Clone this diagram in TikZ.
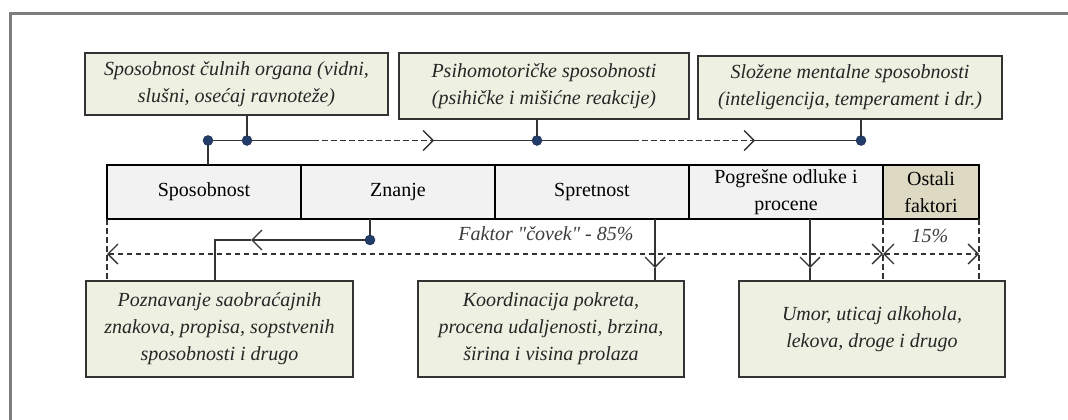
\documentclass[tikz,border=0pt]{standalone}
\usepackage{fontspec}
\setmainfont{Liberation Serif}
\usetikzlibrary{arrows.meta, positioning, calc}

\definecolor{notefill}{RGB}{238,240,226}
\definecolor{cellfill}{RGB}{242,242,242}
\definecolor{otherfill}{RGB}{221,217,195}
\definecolor{dotblue}{RGB}{35,60,105}
\definecolor{framegray}{RGB}{125,125,125}
\definecolor{labelgray}{RGB}{60,60,60}

\begin{document}
\begin{tikzpicture}[
    x=1pt, y=-1pt,
    node distance=0pt,
    note/.style={rectangle, draw=black!80, line width=1.3pt, fill=notefill, align=center, inner sep=0pt,
        font=\fontsize{20}{27}\selectfont\itshape, text=black!85},
    cell/.style={rectangle, draw, line width=2.2pt, fill=cellfill, align=center, inner sep=0pt, outer sep=0pt,
        minimum width=194pt, minimum height=54pt, font=\fontsize{20}{27}\selectfont},
    tag/.style={font=\fontsize{20}{24}\selectfont\itshape, text=labelgray, inner sep=0pt},
    link/.style={line width=1.3pt, black!80},
    barb/.tip={Straight Barb[length=10pt, width=20pt, line width=1.3pt]},
    arrow/.style={link, -barb},
    dasharrow/.style={arrow, dash pattern=on 5.5pt off 3.5pt},
    twoway/.style={link, barb-barb, dash pattern=on 5.5pt off 3.5pt},
    dashline/.style={link, dash pattern=on 5.5pt off 3.5pt},
    dot/.style={circle, fill=dotblue, draw=dotblue!70!black, inner sep=0pt, minimum size=10pt}
]
    \useasboundingbox (0,0) rectangle (1068,420);

    % Frame
    \draw[framegray, line width=3pt] (10,420) -- (10,13.5) -- (1068,13.5);

    % Main bar
    \node[cell] (sposobnost) at (204,192) {Sposobnost};
    \node[cell, right=of sposobnost] (znanje) {Znanje};
    \node[cell, right=of znanje] (spretnost) {Spretnost};
    \node[cell, right=of spretnost] (odluke) {Pogrešne odluke i\\procene};
    \node[cell, right=of odluke, minimum width=96pt, fill=otherfill] (ostali) {Ostali\\faktori};

    % Upper notes
    \node[note, minimum width=303pt, minimum height=62pt] (culni) at (236.5,84) {Sposobnost čulnih organa (vidni,\\slušni, osećaj ravnoteže)};
    \node[note, minimum width=290pt, minimum height=66pt] (psiho) at (544,86) {Psihomotoričke sposobnosti\\(psihičke i mišićne reakcije)};
    \node[note, minimum width=304pt, minimum height=63pt] (mentalne) at (850,87.5) {Složene mentalne sposobnosti\\(inteligencija, temperament i dr.)};

    % Lower notes
    \node[note, minimum width=267pt, minimum height=96pt] (poznavanje) at (219.5,329) {Poznavanje saobraćajnih\\znakova, propisa, sopstvenih\\sposobnosti i drugo};
    \node[note, minimum width=266pt, minimum height=96pt] (koordinacija) at (551,329) {Koordinacija pokreta,\\procena udaljenosti, brzina,\\širina i visina prolaza};
    \node[note, minimum width=266pt, minimum height=96pt] (umor) at (872,329) {Umor, uticaj alkohola,\\lekova, droge i drugo};

    % Upper connector
    \coordinate (t1) at (208,140.5);
    \coordinate (t2) at (247,140.5);
    \coordinate (t3) at (537,140.5);
    \coordinate (t4) at (861,140.5);
    \draw[link] (t1 |- sposobnost.north) -- (t1) -- (t2) -- (313,140.5) coordinate (d1);
    \draw[dasharrow] (d1) -- (434,140.5) coordinate (d2);
    \draw[link] (d2) -- (t3) -- (633,140.5) coordinate (d3);
    \draw[dasharrow] (d3) -- (755,140.5) coordinate (d4);
    \draw[link] (d4) -- (t4);
    \draw[link] (t2) -- (t2 |- culni.south);
    \draw[link] (t3) -- (t3 |- psiho.south);
    \draw[link] (t4) -- (t4 |- mentalne.south);

    % Lower connectors
    \coordinate (b1) at (370,240);
    \draw[link] (b1 |- znanje.south) -- (b1);
    \draw[arrow] (b1) -- (251,240) coordinate (b2);
    \draw[link] (b2) -- (215,240) -- (215,240 |- poznavanje.north);
    \coordinate (s1) at (655,268);
    \draw[arrow] (s1 |- spretnost.south) -- (s1);
    \draw[link] (s1) -- (s1 |- koordinacija.north);
    \coordinate (s2) at (810,268);
    \draw[arrow] (s2 |- odluke.south) -- (s2);
    \draw[link] (s2) -- (s2 |- umor.north);

    % Shares
    \draw[dashline] (sposobnost.south west) -- (sposobnost.south west |- poznavanje.north);
    \draw[dashline] (ostali.south west) -- (ostali.south west |- umor.north);
    \draw[dashline] (ostali.south east) -- (ostali.south east |- umor.north);
    \draw[twoway] ($(sposobnost.south west)+(0,35)$) -- ($(ostali.south west)+(0,35)$);
    \draw[twoway] ($(ostali.south west)+(0,35)$) -- ($(ostali.south east)+(0,35)$);
    \node[tag] (covek) at (546,234) {Faktor \textquotedbl čovek\textquotedbl{} - 85\%};
    \node[tag] (ostatak) at (930,236) {15\%};

    % Dots
    \foreach \p in {t1,t2,t3,t4,b1}
        \node[dot] at (\p) {};
\end{tikzpicture}
\end{document}
